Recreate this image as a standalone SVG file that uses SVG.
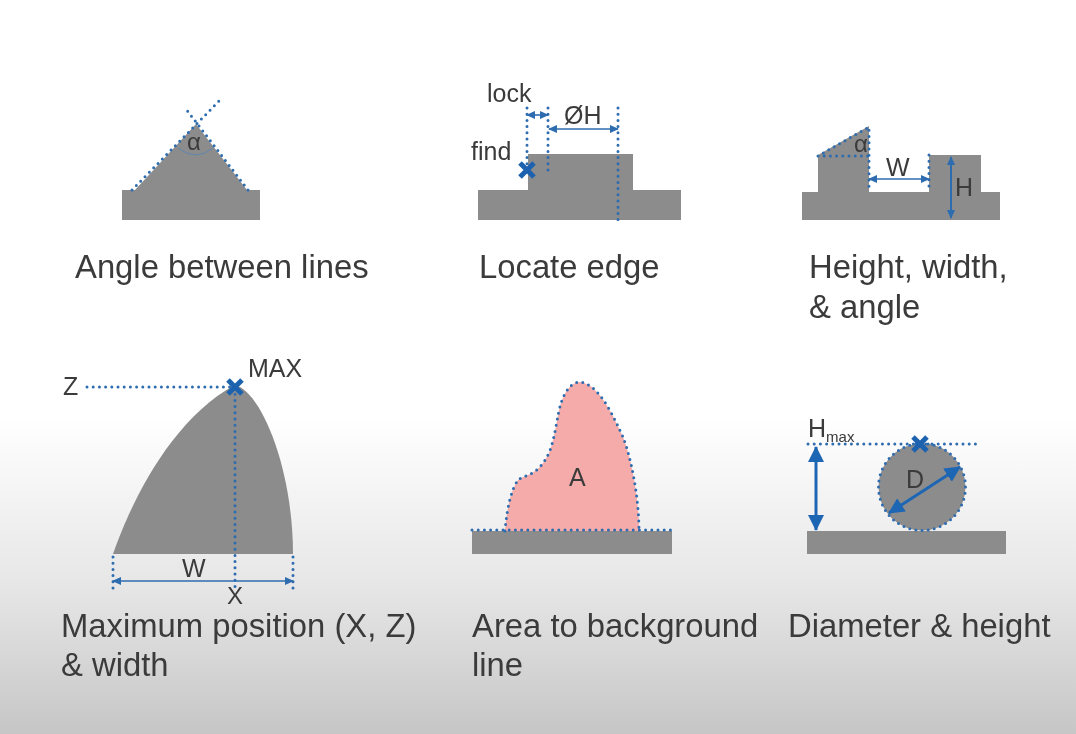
<svg xmlns="http://www.w3.org/2000/svg" width="1076" height="734" viewBox="0 0 1076 734">
<style>
text{font-family:"Liberation Sans",Arial,sans-serif;fill:#3a3a3a}
.cap{font-size:32.8px}
.lab{font-size:25px}
.shape{fill:#8c8c8c}
.dot{fill:none;stroke:#2f6cb0;stroke-width:3;stroke-linecap:round;stroke-dasharray:0 6.2}
.arr{fill:none;stroke:#2f6cb0;stroke-width:1.6;marker-start:url(#hs);marker-end:url(#he)}
.big{fill:none;stroke:#1f66b4;stroke-width:3;marker-start:url(#bs);marker-end:url(#be)}
.x{fill:none;stroke:#1f62ae;stroke-width:5}
</style>
<defs>
<linearGradient id="bg" x1="0" y1="0" x2="0" y2="1"><stop offset="0" stop-color="#fff"/><stop offset="0.57" stop-color="#fff"/><stop offset="0.8" stop-color="#e6e6e6"/><stop offset="1" stop-color="#c6c6c6"/></linearGradient>
<filter id="soft" x="-5%" y="-5%" width="110%" height="110%"><feGaussianBlur stdDeviation="0.6"/></filter>
<marker id="he" markerWidth="9" markerHeight="8" refX="8" refY="4" orient="auto" markerUnits="userSpaceOnUse"><path d="M0,0L9,4L0,8Z" fill="#2f6cb0"/></marker>
<marker id="hs" markerWidth="9" markerHeight="8" refX="1" refY="4" orient="auto" markerUnits="userSpaceOnUse"><path d="M9,0L0,4L9,8Z" fill="#2f6cb0"/></marker>
<marker id="be" markerWidth="16" markerHeight="16" refX="15" refY="8" orient="auto" markerUnits="userSpaceOnUse"><path d="M0,0L16,8L0,16Z" fill="#1f66b4"/></marker>
<marker id="bs" markerWidth="16" markerHeight="16" refX="1" refY="8" orient="auto" markerUnits="userSpaceOnUse"><path d="M16,0L0,8L16,16Z" fill="#1f66b4"/></marker>
</defs>
<rect width="1076" height="734" fill="url(#bg)"/>
<g filter="url(#soft)">
<g id="angle-between-lines">
<path class="shape" d="M122,190H135L196,124L247,190H260V220H122Z"/>
<path class="dot" d="M132,190L221,99M248,190L186,109"/>
<path d="M178,148Q196,162 213,148" fill="none" stroke="#5f86b0" stroke-width="1"/>
<text x="194" y="150" text-anchor="middle" style="font-size:24px">α</text>
<text class="cap" x="75" y="278">Angle between lines</text>
</g>
<g id="locate-edge">
<path class="shape" d="M478,190H528V154H633V190H681V220H478Z"/>
<path class="dot" d="M527,108V165M548,108V171M618,108V220"/>
<path class="arr" d="M527,115H548"/>
<path class="arr" d="M549,129H618"/>
<path class="x" d="M520,163L534,177M534,163L520,177"/>
<text class="lab" x="487" y="102">lock</text>
<text class="lab" x="471" y="160">find</text>
<text class="lab" x="564" y="124">ØH</text>
<text class="cap" x="479" y="278">Locate edge</text>
</g>
<g id="height-width-angle">
<path class="shape" d="M802,192H818V155L869,126V192H929V155H981V192H1000V220H802Z"/>
<path class="dot" d="M818,156L869,127V192M818,156H869M929,155V192"/>
<path class="arr" d="M869,179H929"/>
<path class="arr" d="M951,157V218" style="stroke-width:2"/>
<text x="861" y="152" text-anchor="middle" style="font-size:24px">α</text>
<text class="lab" x="886" y="176">W</text>
<text class="lab" x="955" y="196">H</text>
<text class="cap" x="809" y="278">Height, width,</text>
<text class="cap" x="809" y="318">&amp; angle</text>
</g>
<g id="maximum-position">
<path class="shape" d="M113,554C130,505 170,420 235,385C262,392 293,470 293,554Z"/>
<path class="dot" d="M87,387H232M235,388V590M113,557V589M293,557V589"/>
<path class="arr" d="M113,581H293"/>
<path class="x" d="M228,380L242,394M242,380L228,394"/>
<text class="lab" x="63" y="395">Z</text>
<text class="lab" x="248" y="377">MAX</text>
<text class="lab" x="182" y="577">W</text>
<text class="lab" x="227" y="604" style="font-size:24px">X</text>
<text class="cap" x="61" y="637">Maximum position (X, Z)</text>
<text class="cap" x="61" y="676">&amp; width</text>
</g>
<g id="area-to-background">
<path d="M505,531C507,508 511,490 518,480C526,474 538,476 549,453C556,435 557,415 561,403C566,388 573,382 580,382C600,384 615,420 623,437C632,460 639,500 639,531Z" fill="#f4aba9"/>
<path class="shape" d="M472,531H672V554H472Z"/>
<path class="dot" d="M505,531C507,508 511,490 518,480C526,474 538,476 549,453C556,435 557,415 561,403C566,388 573,382 580,382C600,384 615,420 623,437C632,460 639,500 639,531M472,530H672"/>
<text class="lab" x="569" y="486">A</text>
<text class="cap" x="472" y="637">Area to background</text>
<text class="cap" x="472" y="676">line</text>
</g>
<g id="diameter-height">
<path class="shape" d="M807,531H1006V554H807Z"/>
<circle cx="922" cy="487" r="43.5" fill="#8c8c8c"/>
<circle class="dot" cx="922" cy="487" r="43.5"/>
<path class="dot" d="M808,444H980"/>
<path class="big" d="M816,447V530"/>
<path class="big" d="M889,513L960,467"/>
<path class="x" d="M913,437L927,451M927,437L913,451"/>
<text class="lab" x="808" y="437">H<tspan dy="5" style="font-size:15px">max</tspan></text>
<text class="lab" x="906" y="488">D</text>
<text class="cap" x="788" y="637">Diameter &amp; height</text>
</g>
</g>
</svg>
